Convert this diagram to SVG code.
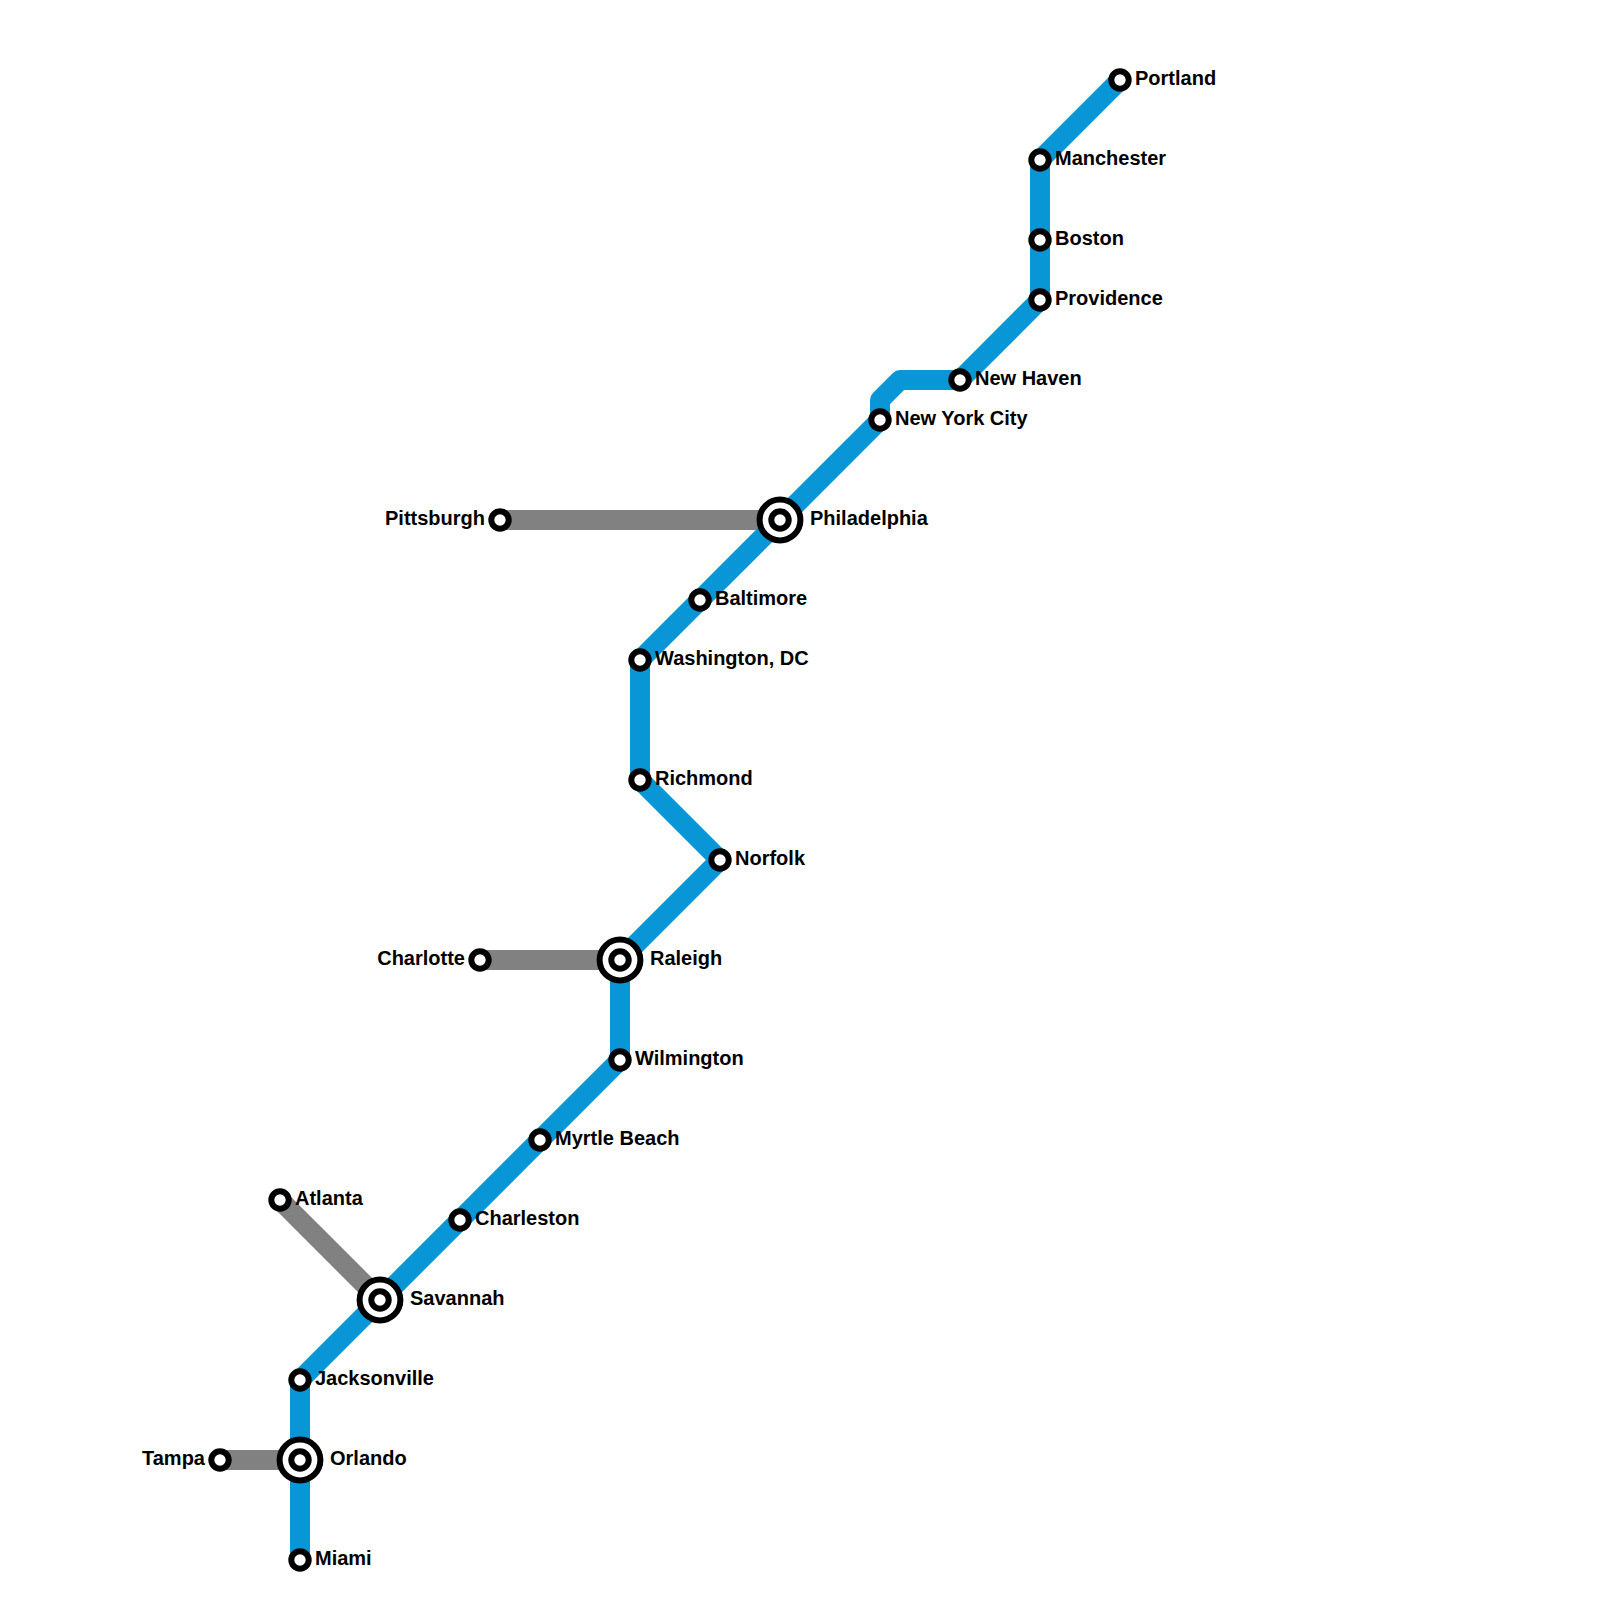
<svg xmlns="http://www.w3.org/2000/svg" width="1600" height="1600" viewBox="0 0 1600 1600">
<style>
.line{fill:none;stroke-width:20;stroke-linejoin:round;stroke-linecap:butt}
.blue{stroke:#0896d7}
.gray{stroke:#818181}
.st{fill:#fff;stroke:#000;stroke-width:6}
.hub{fill:#fff;stroke:#000;stroke-width:6}
text{font-family:"Liberation Sans",Arial,sans-serif;font-weight:700;font-size:20px;fill:#000}
.e{text-anchor:end}
</style>
<rect width="1600" height="1600" fill="#fff"/>
<g id="connectors">
<path class="line gray" d="M500 520H780"/>
<path class="line gray" d="M480 960H620"/>
<path class="line gray" d="M280 1200L380 1300"/>
<path class="line gray" d="M220 1460H300"/>
<path class="line blue" d="M300 1560V1380L620 1060V960L720 860L640 780V660L880 420V400L900 380H960L1040 300V160L1120 80"/>
</g>
<defs>
<g id="s"><circle class="st" r="8.7"/></g>
<g id="h"><circle class="hub" r="20.4"/><circle class="st" r="8.7"/></g>
</defs>
<g id="portland"><use href="#s" x="1120" y="80"/><text x="1135" y="85">Portland</text></g>
<g id="manchester"><use href="#s" x="1040" y="160"/><text x="1055" y="165">Manchester</text></g>
<g id="boston"><use href="#s" x="1040" y="240"/><text x="1055" y="245">Boston</text></g>
<g id="providence"><use href="#s" x="1040" y="300"/><text x="1055" y="305">Providence</text></g>
<g id="new-haven"><use href="#s" x="960" y="380"/><text x="975" y="385">New Haven</text></g>
<g id="new-york-city"><use href="#s" x="880" y="420"/><text x="895" y="425">New York City</text></g>
<g id="philadelphia"><use href="#h" x="780" y="520"/><text x="810" y="525">Philadelphia</text></g>
<g id="pittsburgh"><use href="#s" x="500" y="520"/><text class="e" x="485" y="525">Pittsburgh</text></g>
<g id="baltimore"><use href="#s" x="700" y="600"/><text x="715" y="605">Baltimore</text></g>
<g id="washington-dc"><use href="#s" x="640" y="660"/><text x="655" y="665">Washington, DC</text></g>
<g id="richmond"><use href="#s" x="640" y="780"/><text x="655" y="785">Richmond</text></g>
<g id="norfolk"><use href="#s" x="720" y="860"/><text x="735" y="865">Norfolk</text></g>
<g id="raleigh"><use href="#h" x="620" y="960"/><text x="650" y="965">Raleigh</text></g>
<g id="charlotte"><use href="#s" x="480" y="960"/><text class="e" x="465" y="965">Charlotte</text></g>
<g id="wilmington"><use href="#s" x="620" y="1060"/><text x="635" y="1065">Wilmington</text></g>
<g id="myrtle-beach"><use href="#s" x="540" y="1140"/><text x="555" y="1145">Myrtle Beach</text></g>
<g id="charleston"><use href="#s" x="460" y="1220"/><text x="475" y="1225">Charleston</text></g>
<g id="atlanta"><use href="#s" x="280" y="1200"/><text x="295" y="1205">Atlanta</text></g>
<g id="savannah"><use href="#h" x="380" y="1300"/><text x="410" y="1305">Savannah</text></g>
<g id="jacksonville"><use href="#s" x="300" y="1380"/><text x="315" y="1385">Jacksonville</text></g>
<g id="orlando"><use href="#h" x="300" y="1460"/><text x="330" y="1465">Orlando</text></g>
<g id="tampa"><use href="#s" x="220" y="1460"/><text class="e" x="205" y="1465">Tampa</text></g>
<g id="miami"><use href="#s" x="300" y="1560"/><text x="315" y="1565">Miami</text></g>
</svg>
